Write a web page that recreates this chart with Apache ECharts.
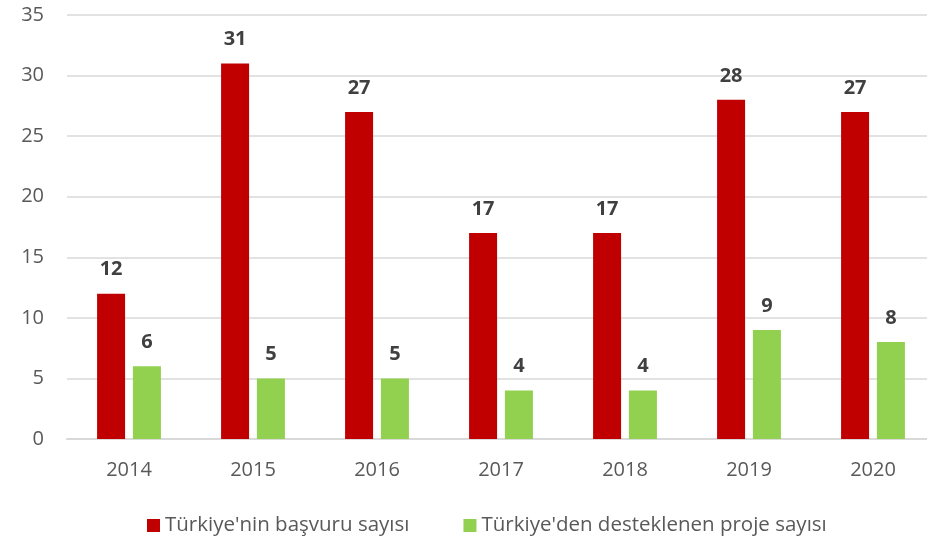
<!DOCTYPE html>
<html>
<head>
<meta charset="utf-8">
<script src="https://cdn.jsdelivr.net/npm/echarts@6/dist/echarts.min.js"></script>
<style>
  html, body { margin: 0; padding: 0; background: #fff; }
  #container { width: 927px; height: 536px; }
</style>
</head>
<body>
<div id="container"></div>
<script>
var years = ['2014', '2015', '2016', '2017', '2018', '2019', '2020'];
var basvuru = [12, 31, 27, 17, 17, 28, 27];
var desteklenen = [6, 5, 5, 4, 4, 9, 8];

var dom = document.getElementById('container');
var myChart = echarts.init(dom, null, { renderer: 'canvas' });

var font = '"Open Sans", sans-serif';

var option = {
    animation: false,
    textStyle: { fontFamily: font },
    grid: { left: 67, width: 868, top: 15, height: 424, containLabel: false, outerBoundsMode: 'none' },
    legend: {
        top: 510,
        left: 142,
        icon: 'rect',
        itemWidth: 13,
        itemHeight: 13,
        itemGap: 54,
        textStyle: { fontFamily: font, fontSize: 20.5, color: '#595959' },
        data: ["Türkiye'nin başvuru sayısı", "Türkiye'den desteklenen proje sayısı"]
    },
    xAxis: {
        type: 'category',
        data: years,
        axisLine: { lineStyle: { color: '#d9d9d9', width: 2 } },
        axisTick: { show: false },
        axisLabel: { fontFamily: font, fontSize: 20, color: '#595959', margin: 21 }
    },
    yAxis: {
        type: 'value',
        min: 0,
        max: 35,
        interval: 5,
        axisLine: { show: false },
        axisTick: { show: false },
        splitLine: { lineStyle: { color: '#d9d9d9', width: 1.5 } },
        axisLabel: { fontFamily: font, fontSize: 20, color: '#595959', margin: 23 }
    },
    series: [
        {
            name: "Türkiye'nin başvuru sayısı",
            type: 'bar',
            data: basvuru,
            barWidth: 28,
            barGap: '28%',
            itemStyle: { color: '#C00000' },
            label: {
                show: true,
                position: 'top',
                distance: 14,
                fontFamily: font,
                fontSize: 20,
                fontWeight: 'bold',
                color: '#404040'
            }
        },
        {
            name: "Türkiye'den desteklenen proje sayısı",
            type: 'bar',
            data: desteklenen,
            barWidth: 28,
            itemStyle: { color: '#92D050' },
            label: {
                show: true,
                position: 'top',
                distance: 14,
                fontFamily: font,
                fontSize: 20,
                fontWeight: 'bold',
                color: '#404040'
            }
        }
    ]
};

myChart.setOption(option);
window.addEventListener('resize', myChart.resize);
</script>
</body>
</html>
